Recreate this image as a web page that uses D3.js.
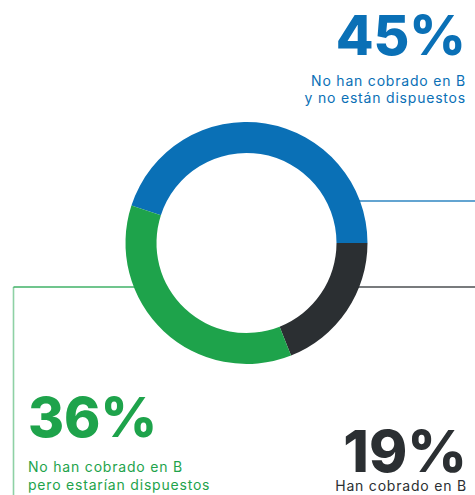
<!DOCTYPE html>
<html>
<head>
<meta charset="utf-8">
<script src="https://cdn.jsdelivr.net/npm/d3@7"></script>
<style>
  body { margin: 0; background: #fff; }
  svg { display: block; font-family: Inter, "Open Sans", sans-serif; }
</style>
</head>
<body>
<div id="chart"></div>
<script>
var categories = ["No han cobrado en B y no están dispuestos", "Han cobrado en B", "No han cobrado en B pero estarían dispuestos"];
var values = [45, 19, 36];
var valueLabels = ["45%", "19%", "36%"];
var labelLines = [
  ["No han cobrado en B", "y no están dispuestos"],
  ["Han cobrado en B"],
  ["No han cobrado en B", "pero estarían dispuestos"]
];
var colors = ["#0a70b6", "#2b2f32", "#1ea34b"];

var width = 475,
    height = 495,
    cx = 246.5,
    cy = 243,
    outerR = 121,
    innerR = 90;

var svg = d3.select("#chart").append("svg")
  .attr("width", width)
  .attr("height", height);

// leader lines (behind the ring)
function edgeX(y, side) {
  var dy = y - cy;
  return cx + side * Math.sqrt(outerR * outerR - dy * dy) - side * 4;
}
var lines = svg.append("g").attr("fill", "none");
lines.append("path")
  .attr("d", "M" + edgeX(201, 1) + ",201H" + width)
  .attr("stroke", colors[0]).attr("stroke-width", 1.5).attr("opacity", 0.85);
lines.append("path")
  .attr("d", "M" + edgeX(287, 1) + ",287H" + width)
  .attr("stroke", colors[1]).attr("stroke-width", 1.5).attr("opacity", 0.85);
lines.append("path")
  .attr("d", "M" + edgeX(287, -1) + ",287H13.5")
  .attr("stroke", colors[2]).attr("stroke-width", 1.5).attr("opacity", 0.85);
lines.append("path")
  .attr("d", "M13.5,287V" + height)
  .attr("stroke", colors[2]).attr("stroke-width", 1.6).attr("opacity", 0.5);

var start = -0.4 * Math.PI;
var pie = d3.pie().sort(null).value(function(d) { return d; })
  .startAngle(start).endAngle(start + 2 * Math.PI);
var arc = d3.arc().innerRadius(innerR).outerRadius(outerR);

svg.append("g")
  .attr("transform", "translate(" + cx + "," + cy + ")")
  .selectAll("path")
  .data(pie(values))
  .join("path")
  .attr("d", arc)
  .attr("fill", function(d, i) { return colors[i]; });

// labels
var labelPos = [
  {x: 466, y: 55, size: 55, anchor: "end", lineY: 86, dy: 17},
  {x: 467, y: 472, size: 58, anchor: "end", lineY: 491, dy: 17},
  {x: 28, y: 437, size: 55, anchor: "start", lineY: 472, dy: 17.5}
];

var labels = svg.append("g").selectAll("g")
  .data(values)
  .join("g");

labels.append("text")
  .attr("x", function(d, i) { return labelPos[i].x; })
  .attr("y", function(d, i) { return labelPos[i].y; })
  .attr("text-anchor", function(d, i) { return labelPos[i].anchor; })
  .attr("fill", function(d, i) { return colors[i]; })
  .attr("font-size", function(d, i) { return labelPos[i].size; })
  .attr("font-weight", 800)
  .text(function(d, i) { return valueLabels[i]; });

labels.each(function(d, i) {
  var p = labelPos[i];
  d3.select(this).selectAll("text.sub")
    .data(labelLines[i])
    .join("text")
    .attr("class", "sub")
    .attr("x", p.x)
    .attr("y", function(t, j) { return p.lineY + j * p.dy; })
    .attr("text-anchor", p.anchor)
    .attr("fill", colors[i])
    .attr("font-size", 14)
    .attr("letter-spacing", 0.8)
    .text(function(t) { return t; });
});
</script>
</body>
</html>
